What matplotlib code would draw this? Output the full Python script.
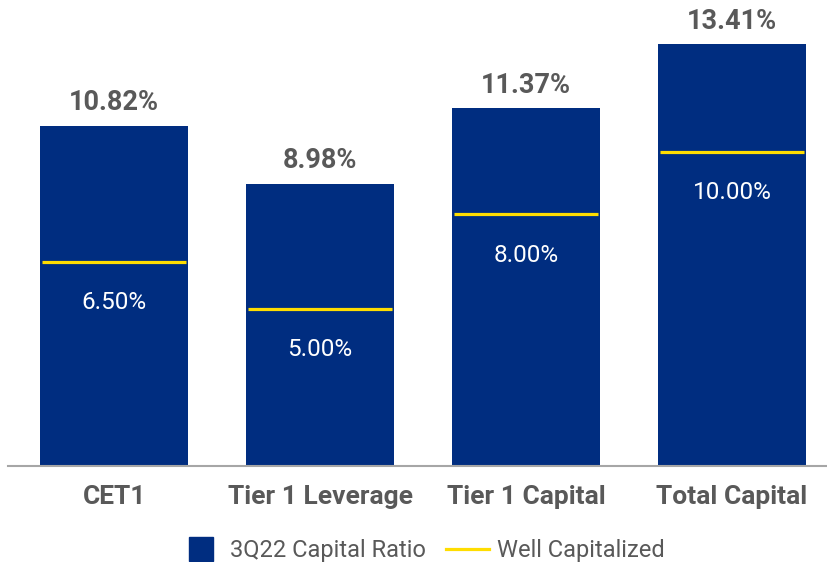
import matplotlib.pyplot as plt
from matplotlib.lines import Line2D

# Capital ratios, 3Q22 vs well-capitalized thresholds
categories = ['CET1', 'Tier 1 Leverage', 'Tier 1 Capital', 'Total Capital']
ratio_3q22 = [10.82, 8.98, 11.37, 13.41]
well_capitalized = [6.50, 5.00, 8.00, 10.00]

BLUE = '#002D80'
YELLOW = '#FFDD00'
GRAY = '#595959'

plt.rcParams['font.family'] = ['Roboto', 'DejaVu Sans']

fig = plt.figure(figsize=(8.28, 5.62), dpi=100)
ax = fig.add_axes([8 / 828, 1 - 466 / 562, 820 / 828, 456 / 562])

x = list(range(len(categories)))
width = 0.718
ax.bar(x, ratio_3q22, width=width, color=BLUE, zorder=2)

for xi, val, wc in zip(x, ratio_3q22, well_capitalized):
    ax.hlines(wc, xi - width / 2 + 0.01, xi + width / 2 - 0.01,
              color=YELLOW, lw=2.3, zorder=3)
    ax.annotate(f'{val:.2f}%', (xi, val), xytext=(0, 11), textcoords='offset points',
                ha='center', va='baseline', fontsize=19.5, fontweight='bold', color=GRAY)
    ax.annotate(f'{wc:.2f}%', (xi, wc), xytext=(0, -34), textcoords='offset points',
                ha='center', va='baseline', fontsize=17.5, color='white')

ax.set_xlim(-0.515, 3.466)
ax.set_ylim(0, 14.5)
ax.set_xticks(x)
ax.set_xticklabels(categories, fontsize=19, fontweight='bold', color=GRAY)
ax.tick_params(axis='x', length=0, pad=14)
ax.set_yticks([])
for side in ['top', 'right', 'left']:
    ax.spines[side].set_visible(False)
ax.spines['bottom'].set_color('#A6A6A6')
ax.spines['bottom'].set_linewidth(1.5)

handles = [
    Line2D([], [], marker='s', markersize=17, color=BLUE, linestyle='none'),
    Line2D([], [], color=YELLOW, lw=2.3),
]
fig.legend(handles, ['3Q22 Capital Ratio', 'Well Capitalized'],
           loc='center', bbox_to_anchor=(422 / 828, 1 - 551 / 562), ncol=2,
           frameon=False, fontsize=17, handlelength=1.8, handletextpad=0.35,
           columnspacing=0.85, labelcolor=GRAY)

fig.savefig('out.png', dpi=100)
